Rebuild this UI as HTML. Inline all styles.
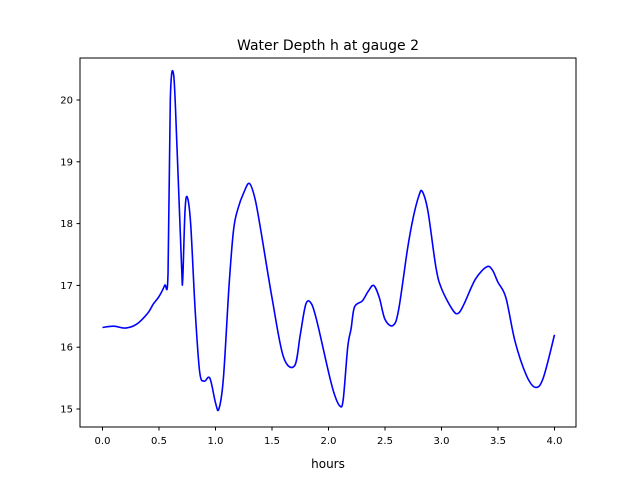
<!DOCTYPE html>
<html><head><meta charset="utf-8"><style>
body{margin:0;background:#fff;}
svg{font-family:"DejaVu Sans","Liberation Sans",sans-serif;}
</style></head><body>
<svg id="chart" width="640" height="480">
<rect width="640" height="480" fill="#fff"/>
<text x="328" y="50" font-size="14" text-anchor="middle">Water Depth h at gauge 2</text>
<g id="plot"></g>
<rect x="80" y="58" width="496" height="369" fill="none" stroke="#000" stroke-width="1"/>
<text x="328" y="468" font-size="12" text-anchor="middle">hours</text>
</svg>
<script>
const hours=[0.0,0.1,0.2,0.3,0.4,0.45,0.5,0.55,0.58,0.6,0.63,0.66,0.7,0.71,0.73,0.75,0.78,0.82,0.86,0.9,0.95,1.0,1.03,1.07,1.12,1.16,1.2,1.25,1.3,1.35,1.4,1.5,1.6,1.7,1.75,1.8,1.85,1.9,2.0,2.05,2.1,2.13,2.17,2.2,2.23,2.3,2.35,2.4,2.45,2.5,2.57,2.62,2.7,2.75,2.8,2.83,2.88,2.95,3.0,3.1,3.15,3.2,3.3,3.4,3.45,3.5,3.57,3.65,3.75,3.83,3.9,4.0];
const depth=[16.32,16.34,16.31,16.37,16.55,16.7,16.82,17.0,17.2,20.0,20.4,19.2,17.3,17.1,18.2,18.43,18.0,16.6,15.6,15.45,15.5,15.1,15.0,15.5,17.0,17.9,18.25,18.5,18.65,18.4,17.9,16.8,15.85,15.7,16.2,16.7,16.7,16.4,15.6,15.25,15.05,15.15,16.0,16.3,16.65,16.75,16.9,17.0,16.8,16.45,16.35,16.6,17.6,18.1,18.45,18.52,18.2,17.3,16.95,16.6,16.55,16.7,17.1,17.3,17.25,17.05,16.8,16.1,15.55,15.35,15.5,16.2];
const xTicks=[0,0.5,1,1.5,2,2.5,3,3.5,4];
const xTickLabels=["0.0","0.5","1.0","1.5","2.0","2.5","3.0","3.5","4.0"];
const yTicks=[15,16,17,18,19,20];
const yTickLabels=["15","16","17","18","19","20"];
const sx=v=>102.5+v*113;
const sy=v=>409+(15-v)*61.8;
const NS="http://www.w3.org/2000/svg";
const g=document.getElementById('plot');
function mk(t,a){const e=document.createElementNS(NS,t);for(const k in a)e.setAttribute(k,a[k]);g.appendChild(e);return e;}
xTicks.forEach((t,i)=>{
 const l=mk('line',{x1:sx(t),x2:sx(t),y1:427,y2:430.5,stroke:'#000'});
 
 
 const tx=mk('text',{x:sx(t),y:444,'font-size':10,'text-anchor':'middle'});tx.textContent=xTickLabels[i];
 
 
});
yTicks.forEach((t,i)=>{
 const l=mk('line',{x1:76.5,x2:80,y1:sy(t),y2:sy(t),stroke:'#000'});
 
 
 const tx=mk('text',{x:73,y:sy(t)+3.5,'font-size':10,'text-anchor':'end'});tx.textContent=yTickLabels[i];
 
 
});
const P=hours.map((h,i)=>[sx(h),sy(depth[i])]);
let d='M'+P[0][0]+','+P[0][1];
for(let i=0;i<P.length-1;i++){
 const p0=P[Math.max(0,i-1)],p1=P[i],p2=P[i+1],p3=P[Math.min(P.length-1,i+2)];
 const c1=[p1[0]+(p2[0]-p0[0])/6,p1[1]+(p2[1]-p0[1])/6];
 const c2=[p2[0]-(p3[0]-p1[0])/6,p2[1]-(p3[1]-p1[1])/6];
 d+=` C${c1[0]},${c1[1]} ${c2[0]},${c2[1]} ${p2[0]},${p2[1]}`;
}
const line=mk('path',{d:d,fill:'none',stroke:'#0000ff','stroke-width':1.6});


</script>
</body></html>
